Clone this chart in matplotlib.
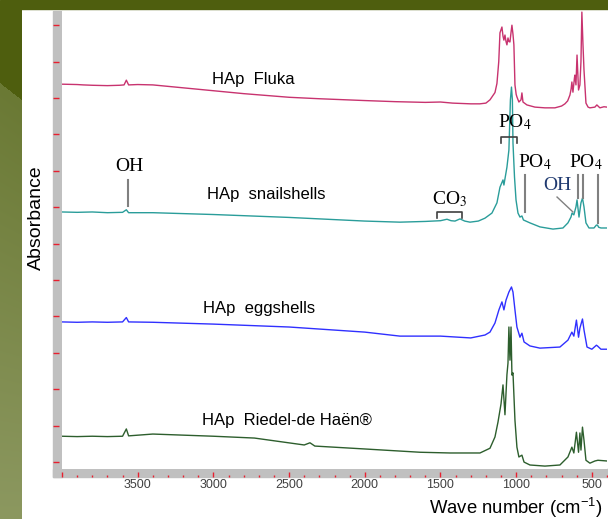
import numpy as np
import matplotlib
matplotlib.use("Agg")
import matplotlib.pyplot as plt
from matplotlib.patches import Rectangle
from matplotlib.ticker import MultipleLocator, FixedLocator

plt.rcParams['mathtext.fontset'] = 'custom'
plt.rcParams['mathtext.rm'] = 'Liberation Sans'
plt.rcParams['mathtext.it'] = 'Liberation Sans:italic'

# FTIR spectra (wave number in cm-1, stacked absorbance)
fluka_wn = [4000, 3900, 3860, 3800, 3700, 3620, 3590, 3575, 3560, 3500, 3400, 3200, 3000, 2800,
            2500, 2300, 2000, 1800, 1600, 1500, 1420, 1300, 1240, 1200, 1173, 1140, 1127, 1115,
            1107, 1094, 1087, 1081, 1074, 1067, 1061, 1054, 1048, 1041, 1034, 1028, 1021, 1015,
            1008, 1000, 995, 982, 968, 962, 955, 929, 876, 810, 744, 700, 678, 660, 645, 637,
            632, 625, 615, 612, 605, 598, 588, 579, 572, 566, 559, 552, 539, 525, 513, 480, 467,
            447, 420, 400]
fluka_abs = [10.38, 10.37, 10.36, 10.35, 10.34, 10.35, 10.36, 10.49, 10.36, 10.37, 10.36, 10.28,
             10.20, 10.12, 10.02, 9.98, 9.93, 9.90, 9.88, 9.89, 9.86, 9.84, 9.84, 9.86, 9.95,
             10.15, 10.40, 11.00, 11.79, 11.95, 11.70, 11.59, 11.73, 11.55, 11.46, 11.65, 11.55,
             11.54, 11.80, 12.00, 11.75, 11.46, 10.36, 10.10, 10.03, 9.89, 9.95, 10.14, 9.89,
             9.81, 9.75, 9.73, 9.73, 9.78, 9.84, 9.92, 10.08, 10.25, 10.44, 10.16, 10.55, 10.63,
             10.36, 11.18, 10.22, 10.36, 11.00, 12.36, 11.50, 10.77, 9.86, 9.75, 9.73, 9.75,
             9.81, 9.73, 9.76, 9.75]

snail_wn = [4000, 3900, 3800, 3700, 3600, 3575, 3560, 3400, 3000, 2500, 2000, 1768, 1600, 1500,
            1457, 1430, 1404, 1371, 1340, 1305, 1250, 1206, 1160, 1127, 1107, 1087, 1081, 1061,
            1048, 1038, 1031, 1025, 1021, 1011, 1001, 988, 975, 962, 952, 909, 843, 757, 691,
            658, 638, 631, 619, 605, 598, 585, 572, 562, 552, 539, 519, 486, 470, 463, 455, 440,
            400]
snail_abs = [6.87, 6.86, 6.87, 6.85, 6.86, 6.93, 6.85, 6.85, 6.80, 6.72, 6.62, 6.59, 6.61, 6.63,
             6.67, 6.63, 6.62, 6.68, 6.62, 6.59, 6.62, 6.70, 6.84, 7.12, 7.55, 7.75, 7.61, 8.10,
             8.57, 9.95, 10.30, 9.95, 8.76, 7.83, 7.20, 6.84, 6.73, 6.76, 6.65, 6.57, 6.46, 6.40,
             6.43, 6.57, 6.73, 6.84, 6.79, 7.01, 7.20, 6.73, 7.12, 7.25, 7.01, 6.57, 6.43, 6.43,
             6.51, 6.51, 6.45, 6.43, 6.43]

egg_wn = [4000, 3900, 3800, 3700, 3600, 3575, 3560, 3400, 3000, 2500, 2000, 1768, 1500, 1300,
          1206, 1173, 1140, 1114, 1094, 1081, 1067, 1048, 1031, 1021, 1008, 995, 975, 962, 948,
          909, 843, 711, 658, 632, 619, 602, 588, 579, 562, 552, 532, 500, 470, 463, 440, 400]
egg_abs = [3.85, 3.84, 3.85, 3.84, 3.85, 3.97, 3.85, 3.84, 3.79, 3.71, 3.57, 3.46, 3.46, 3.41,
           3.49, 3.57, 3.82, 4.18, 4.40, 4.18, 4.45, 4.67, 4.81, 4.67, 4.18, 3.71, 3.43, 3.54,
           3.30, 3.19, 3.13, 3.16, 3.35, 3.57, 3.46, 3.90, 3.43, 3.68, 3.93, 3.63, 3.16, 3.10,
           3.21, 3.19, 3.10, 3.10]

riedel_wn = [4000, 3900, 3800, 3700, 3600, 3575, 3560, 3400, 3000, 2729, 2400, 2362, 2330, 2000,
             1635, 1437, 1239, 1173, 1140, 1120, 1100, 1087, 1074, 1061, 1054, 1048, 1041, 1034,
             1028, 1021, 1008, 995, 982, 962, 948, 909, 810, 711, 658, 632, 619, 602, 588, 579,
             572, 562, 552, 539, 513, 480, 460, 400]
riedel_abs = [0.71, 0.70, 0.71, 0.70, 0.71, 0.91, 0.72, 0.77, 0.71, 0.66, 0.47, 0.53, 0.44, 0.36,
              0.27, 0.25, 0.25, 0.38, 0.69, 1.10, 1.60, 2.12, 1.30, 2.40, 2.72, 3.71, 2.80, 3.71,
              2.39, 2.45, 1.15, 0.41, 0.14, 0.19, 0.00, -0.08, -0.11, -0.08, 0.14, 0.41, 0.25,
              0.82, 0.27, 0.80, 0.33, 0.96, 0.60, 0.05, -0.03, 0.03, 0.05, 0.03]

names = ['HAp  Fluka', 'HAp  snailshells', 'HAp  eggshells', 'HAp  Riedel-de Haën®']
colors = ['#c8336f', '#2a9d9a', '#3030ff', '#2d5e2d']

W, H = 608, 519
fig = plt.figure(figsize=(W / 100, H / 100), dpi=100)
fig.patch.set_facecolor('white')

olive_dark = np.array([78, 94, 14]) / 255
# top band
fig.add_artist(Rectangle((0, 1 - 9 / H), 1, 9 / H, transform=fig.transFigure,
                         color=olive_dark, zorder=-5))
# left strip with diagonal split and lighter gradient
sh, sw = H - 9, 22
strip = np.zeros((sh, sw, 3))
lo_top = np.array([106, 121, 52]) / 255
lo_bot = np.array([140, 152, 96]) / 255
for r in range(sh):
    for c in range(sw):
        edge = 74 + c * 17 / 22
        if r < edge:
            strip[r, c] = olive_dark
        else:
            t = (r - edge) / (sh - edge)
            strip[r, c] = lo_top * (1 - t) + lo_bot * t
sax = fig.add_axes([0, 0, sw / W, sh / H])
sax.imshow(strip, aspect='auto', interpolation='nearest')
sax.axis('off')

# gray frame bars
gray = '#c0c0c0'
fig.add_artist(Rectangle((53 / W, (H - 477) / H), 9 / W, (477 - 11) / H,
                         transform=fig.transFigure, color=gray, zorder=-1))
fig.add_artist(Rectangle((53 / W, (H - 477) / H), (W - 53) / W, 8 / H,
                         transform=fig.transFigure, color=gray, zorder=-1))

ax = fig.add_axes([62 / W, (H - 469) / H, 545 / W, 458 / H])
ax.set_xlim(4000, 400)
ax.set_ylim(-0.19, 12.39)

for wn, ab, c in zip([fluka_wn, snail_wn, egg_wn, riedel_wn],
                     [fluka_abs, snail_abs, egg_abs, riedel_abs], colors):
    ax.plot(wn, ab, color=c, lw=1.0)

for s in ax.spines.values():
    s.set_visible(False)
ax.spines['bottom'].set_position(('outward', 8 * 0.72))
ax.spines['left'].set_position(('outward', 9 * 0.72))

red = '#e82030'
ax.xaxis.set_major_locator(FixedLocator([4000, 3500, 3000, 2500, 2000, 1500, 1000, 500]))
ax.xaxis.set_minor_locator(MultipleLocator(100))
ax.set_xticklabels(['', '3500', '3000', '2500', '2000', '1500', '1000', '500'])
ax.tick_params(axis='x', which='major', direction='in', length=3.6, width=1, color=red,
               pad=1.5, labelsize=9, labelcolor='#404040')
ax.tick_params(axis='x', which='minor', direction='in', length=1.8, width=1, color=red)
ax.yaxis.set_major_locator(MultipleLocator(1))
ax.tick_params(axis='y', which='major', direction='in', length=4.3, width=1, color=red,
               labelleft=False)
for lab in ax.get_xticklabels():
    lab.set_family('Liberation Sans')

# sample names
label_pos = [(2735, 10.52), (2653, 7.36), (2696, 4.23), (2511, 1.13)]
for (x, y), n in zip(label_pos, names):
    ax.text(x, y, n, fontsize=12, family='Liberation Sans', ha='center', va='center')

# band assignments
serif = dict(family='Liberation Serif', fontsize=14, ha='center', va='center',
             math_fontfamily='stix')
lc = dict(color='#808080', lw=1.5)
ax.text(3557, 8.13, 'OH', **serif)
ax.plot([3565, 3565], [7.75, 7.03], **lc)
ax.text(1437, 7.22, 'CO$_3$', **serif)
ax.plot([1523, 1523, 1358, 1358], [6.70, 6.87, 6.87, 6.70], color='#404040', lw=1.2)
ax.text(1008, 9.33, 'PO$_4$', **serif)
ax.plot([1100, 1100, 995, 995], [8.76, 8.93, 8.93, 8.76], color='#404040', lw=1.2)
ax.text(879, 8.23, 'PO$_4$', **serif)
ax.plot([942, 942], [7.88, 6.87], **lc)
ax.text(730, 7.61, 'OH', color='#203a70', **serif)
ax.plot([730, 625], [7.28, 6.87], color='#808080', lw=1.0)
ax.text(542, 8.23, 'PO$_4$', **serif)
ax.plot([592, 592], [7.88, 7.25], **lc)
ax.plot([559, 559], [7.88, 7.25], **lc)
ax.plot([460, 460], [7.88, 6.57], **lc)

fig.text(516 / W, 1 - 508 / H, 'Wave number (cm$^{-1}$)', fontsize=13.3,
         family='Liberation Sans', ha='center', va='center')
fig.text(36 / W, 1 - 218 / H, 'Absorbance', fontsize=14, family='Liberation Sans',
         rotation=90, ha='center', va='center')

fig.savefig('out.png', dpi=100)
